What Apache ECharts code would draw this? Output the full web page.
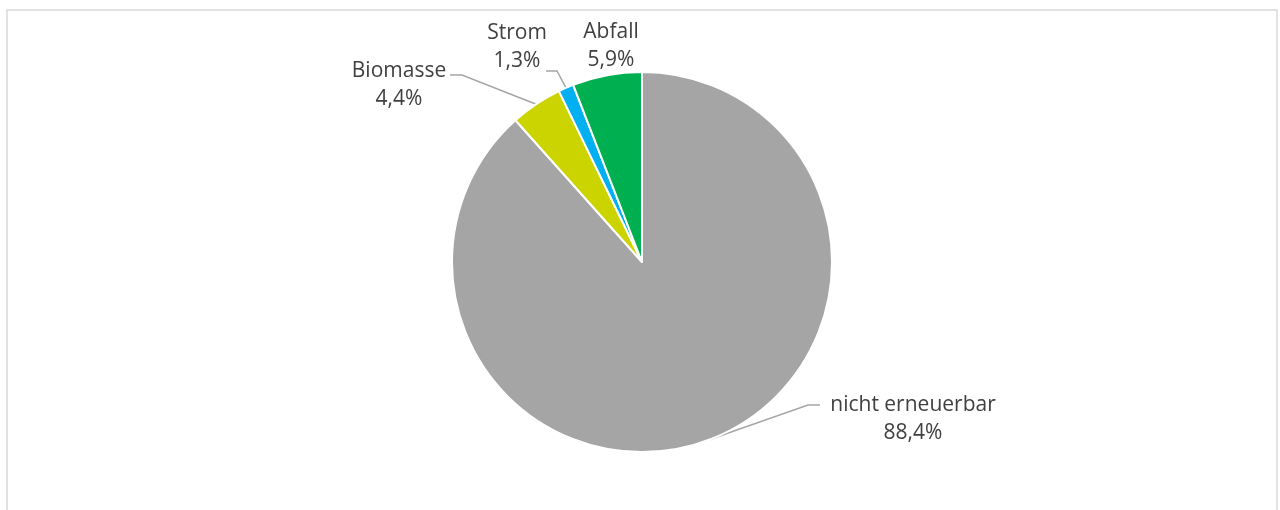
<!DOCTYPE html>
<html><head><meta charset="utf-8">
<script src="https://cdn.jsdelivr.net/npm/echarts@6/dist/echarts.min.js"></script>
<style>html,body{margin:0;padding:0;background:#fff}#c{width:1280px;height:510px}</style>
</head><body><div id="c"></div>
<script>
const categories = ['nicht erneuerbar', 'Biomasse', 'Strom', 'Abfall'];
const values = [88.4, 4.4, 1.3, 5.9];
const colors = ['#A5A5A5', '#CCD400', '#00B0F0', '#00B050'];

// label anchor positions (centre of two-line label) and leader elbows
const labelPos = [
  {x: 913, y: 419, elbow: [808, 405], end: [820, 405]},
  {x: 399, y: 85, elbow: [462, 75], end: [450, 75]},
  {x: 517, y: 47, elbow: [557, 71], end: [546, 71]},
  {x: 611, y: 46, elbow: null, end: null}
];

const data = categories.map((c, i) => ({
  name: c, value: values[i], itemStyle: {color: colors[i]},
  labelLine: {show: labelPos[i].elbow !== null}
}));

const chart = echarts.init(document.getElementById('c'), null, {renderer: 'canvas'});
chart.setOption({
  animation: false,
  graphic: [{type: 'rect', shape: {x: 7, y: 10, width: 1270, height: 520},
    style: {fill: 'none', stroke: '#D9D9D9', lineWidth: 1.5}, silent: true}],
  series: [{
    type: 'pie',
    center: [642, 262],
    radius: 190,
    startAngle: 90,
    clockwise: true,
    data: data,
    itemStyle: {borderColor: '#ffffff', borderWidth: 2},
    label: {
      show: true, position: 'outside',
      formatter: p => p.name + '\n' + p.value.toFixed(1).replace('.', ',') + '%',
      color: '#404040', fontSize: 21, lineHeight: 28,
      fontFamily: '"Open Sans", sans-serif', align: 'center'
    },
    labelLine: {show: true, lineStyle: {color: '#A5A5A5', width: 1.5}, length: 15, length2: 10},
    labelLayout: function (p) {
      const lp = labelPos[p.dataIndex];
      const res = {x: lp.x, y: lp.y, align: 'center', verticalAlign: 'middle'};
      if (lp.elbow && p.labelLinePoints) {
        res.labelLinePoints = [p.labelLinePoints[0], lp.elbow, lp.end];
      }
      return res;
    }
  }]
});
</script></body></html>
